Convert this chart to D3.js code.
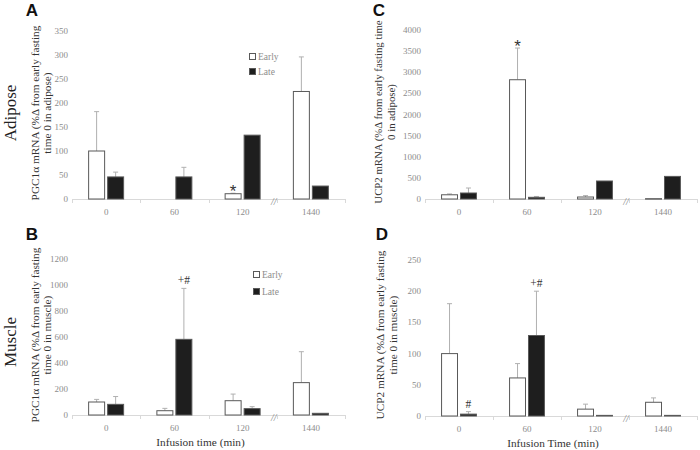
<!DOCTYPE html>
<html><head><meta charset="utf-8">
<script src="https://cdn.jsdelivr.net/npm/d3@7"></script>
<style>body{margin:0;background:#fff}svg{display:block}</style>
</head><body>
<svg id="c" width="700" height="450"></svg>
<script>
const categories = ["0", "60", "120", "1440"];
const seriesNames = ["Early", "Late"];

const aEarly = [100, 0, 11, 224];
const aEarlyErr = [82, 0, 1, 72];
const aLate = [46, 46, 133, 27];
const aLateErr = [10, 20, 0, 0];
const aTicks = [0, 50, 100, 150, 200, 250, 300, 350];

const cEarly = [100, 2823, 47, 8];
const cEarlyErr = [20, 750, 33, 0];
const cLate = [142, 40, 426, 535];
const cLateErr = [118, 20, 0, 0];
const cTicks = [0, 500, 1000, 1500, 2000, 2500, 3000, 3500, 4000];

const bEarly = [100, 33, 110, 249];
const bEarlyErr = [20, 18, 51, 238];
const bLate = [82, 582, 49, 13];
const bLateErr = [60, 392, 15, 0];
const bTicks = [0, 200, 400, 600, 800, 1000, 1200];

const dEarly = [100, 61, 11, 22];
const dEarlyErr = [80, 23, 8, 7];
const dLate = [3, 129, 1, 1];
const dLateErr = [4, 71, 0, 0];
const dTicks = [0, 50, 100, 150, 200, 250];

const svg = d3.select("#c");
const SERIF = "Liberation Serif, Times New Roman, serif";
const SANS = "Liberation Sans, Arial, sans-serif";

function drawPanel(p) {
  const g = svg.append("g");
  const x = d3.scaleBand().domain(categories).range([p.x0, p.x1]).padding(0);
  const xi = d3.scaleBand().domain(seriesNames).range([0, x.bandwidth()])
    .paddingInner(0.158).paddingOuter(0.875);
  const y = d3.scaleLinear().domain([0, p.ticks[p.ticks.length - 1]]).range([p.y0, p.yTop]);

  g.selectAll(".yt").data(p.ticks).enter().append("text")
    .attr("x", p.x0 - 4).attr("y", d => y(d) + 3)
    .attr("text-anchor", "end").style("font-family", SERIF).attr("font-size", 9)
    .attr("fill", "#8c8c8c").text(d => d);

  g.append("line").attr("x1", p.x0).attr("x2", p.x1).attr("y1", p.y0 + 0.5).attr("y2", p.y0 + 0.5)
    .attr("stroke", "#d9d9d9").attr("stroke-width", 1);
  const bounds = categories.map(c => x(c)).concat([p.x1]);
  g.selectAll(".xtk").data(bounds).enter().append("line")
    .attr("x1", d => Math.round(d) + 0.5).attr("x2", d => Math.round(d) + 0.5)
    .attr("y1", p.y0).attr("y2", p.y0 + 4).attr("stroke", "#d9d9d9");
  g.selectAll(".xl").data(categories).enter().append("text")
    .attr("x", d => x(d) + x.bandwidth() / 2).attr("y", p.y0 + 16)
    .attr("text-anchor", "middle").style("font-family", SERIF).attr("font-size", 9)
    .attr("fill", "#8c8c8c").text(d => d);

  const series = [
    {name: "Early", vals: p.early, errs: p.earlyErr, fill: "#ffffff"},
    {name: "Late", vals: p.late, errs: p.lateErr, fill: "#1e1e1e"}
  ];
  series.forEach(s => {
    const data = categories.map((c, i) => ({c, v: s.vals[i], e: s.errs[i]})).filter(d => d.v > 0);
    const eb = data.filter(d => d.e > 0);
    const cx = d => x(d.c) + xi(s.name) + xi.bandwidth() / 2;
    g.selectAll(null).data(eb).enter().append("line")
      .attr("x1", cx).attr("x2", cx)
      .attr("y1", d => y(d.v)).attr("y2", d => y(d.v + d.e))
      .attr("stroke", "#b0b0b0").attr("stroke-width", 1);
    g.selectAll(null).data(eb).enter().append("line")
      .attr("x1", d => cx(d) - 2.5).attr("x2", d => cx(d) + 2.5)
      .attr("y1", d => y(d.v + d.e)).attr("y2", d => y(d.v + d.e))
      .attr("stroke", "#b0b0b0").attr("stroke-width", 1);
    g.selectAll(null).data(data).enter().append("rect")
      .attr("x", d => x(d.c) + xi(s.name)).attr("width", xi.bandwidth())
      .attr("y", d => y(d.v)).attr("height", d => Math.max(0.5, y(0) - y(d.v)))
      .attr("fill", s.fill).attr("stroke", "#595959").attr("stroke-width", 1);
  });

  p.notes.forEach(n => {
    const s = series.find(q => q.name === n.series);
    const i = categories.indexOf(n.cat);
    const top = s.vals[i] + s.errs[i];
    g.append("text")
      .attr("x", x(n.cat) + xi(n.series) + xi.bandwidth() / 2)
      .attr("y", y(top) - n.off)
      .attr("text-anchor", "middle").style("font-family", n.text === "*" ? SANS : SERIF)
      .attr("font-size", n.text === "*" ? 17 : 11.5).attr("fill", "#333").text(n.text);
  });

  g.append("text").attr("x", x("1440") - 3).attr("y", p.y0 + 6)
    .attr("text-anchor", "middle").style("font-family", SERIF).attr("font-size", 10)
    .attr("font-style", "italic").attr("fill", "#7f7f7f").text("//");

  if (p.legend) {
    series.forEach((s, k) => {
      g.append("rect").attr("x", p.legend[0] + 0.5).attr("y", p.legend[1] + k * p.legendGap - 3.5)
        .attr("width", 6).attr("height", 6).attr("fill", s.fill).attr("stroke", "#595959");
      g.append("text").attr("x", p.legend[0] + 9).attr("y", p.legend[1] + k * p.legendGap + 3)
        .style("font-family", SERIF).attr("font-size", 9.5).attr("fill", "#8c8c8c").text(s.name);
    });
  }

  p.title.forEach((t, k) => {
    g.append("text")
      .attr("transform", `translate(${p.titleX[k]},${p.titleY}) rotate(-90)`)
      .attr("text-anchor", "middle").style("font-family", SERIF).attr("font-size", p.titleSize || 11.3)
      .attr("fill", "#333").text(t);
  });

  g.append("text").attr("x", p.letterX).attr("y", p.letterY).attr("text-anchor", "middle")
    .style("font-family", SANS).attr("font-weight", "bold").attr("font-size", 17)
    .attr("fill", "#111").text(p.letter);

  if (p.xTitle) {
    g.append("text").attr("x", (p.x0 + p.x1) / 2 - 8).attr("y", p.y0 + 31)
      .attr("text-anchor", "middle").style("font-family", SERIF).attr("font-size", 11.3)
      .attr("fill", "#333").text(p.xTitle);
  }
}

drawPanel({x0: 72, x1: 345, y0: 199, yTop: 31, ticks: aTicks,
  early: aEarly, earlyErr: aEarlyErr, late: aLate, lateErr: aLateErr,
  notes: [{cat: "120", series: "Early", text: "*", off: -4}],
  legend: [249, 57], legendGap: 15, title: ["PGC1α mRNA (%Δ from early fasting", "time 0 in adipose)"],
  titleX: [39, 51], titleY: 113, letter: "A", letterX: 32, letterY: 16});

drawPanel({x0: 425, x1: 697, y0: 199, yTop: 30, ticks: cTicks,
  early: cEarly, earlyErr: cEarlyErr, late: cLate, lateErr: cLateErr,
  notes: [{cat: "60", series: "Early", text: "*", off: -4}],
  legend: null, title: ["UCP2 mRNA (%Δ from early fasting time", "0 in adipose)"],
  titleX: [382, 395], titleY: 112, titleSize: 10.8, letter: "C", letterX: 379, letterY: 16});

drawPanel({x0: 72, x1: 345, y0: 415, yTop: 259, ticks: bTicks,
  early: bEarly, earlyErr: bEarlyErr, late: bLate, lateErr: bLateErr,
  notes: [{cat: "60", series: "Late", text: "+#", off: 4}],
  legend: [253, 275], legendGap: 17, title: ["PGC1α mRNA (%Δ from early fasting", "time 0 in muscle)"],
  titleX: [39, 51], titleY: 335, letter: "B", letterX: 32, letterY: 240,
  xTitle: "Infusion time (min)"});

drawPanel({x0: 425, x1: 697, y0: 416, yTop: 260, ticks: dTicks,
  early: dEarly, earlyErr: dEarlyErr, late: dLate, lateErr: dLateErr,
  notes: [{cat: "60", series: "Late", text: "+#", off: 4}, {cat: "0", series: "Late", text: "#", off: 4}],
  legend: null, title: ["UCP2 mRNA (%Δ from early fasting", "time 0 in muscle)"],
  titleX: [384, 397], titleY: 335, letter: "D", letterX: 382, letterY: 240,
  xTitle: "Infusion Time (min)"});

svg.append("text").attr("transform", "translate(16,113) rotate(-90)").attr("text-anchor", "middle")
  .style("font-family", SERIF).attr("font-size", 17).attr("fill", "#222").text("Adipose");
svg.append("text").attr("transform", "translate(16,342) rotate(-90)").attr("text-anchor", "middle")
  .style("font-family", SERIF).attr("font-size", 17).attr("fill", "#222").text("Muscle");
</script>
</body></html>
